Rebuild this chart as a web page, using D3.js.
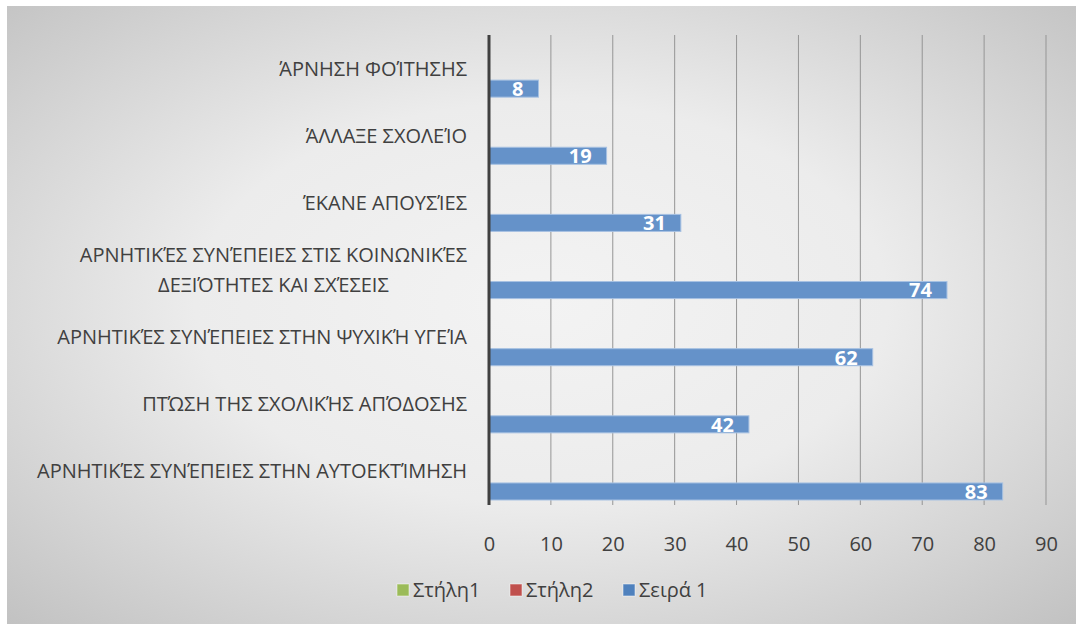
<!DOCTYPE html>
<html>
<head>
<meta charset="utf-8">
<script src="https://cdn.jsdelivr.net/npm/d3@7"></script>
<style>
  body { margin: 0; background: #fff; }
  svg text { font-family: "Open Sans", "Noto Sans", sans-serif; }
</style>
</head>
<body>
<div id="chart"></div>
<script>
// categories top to bottom, label lines split where the original wraps
var categories = [
  ['ΆΡΝΗΣΗ ΦΟΊΤΗΣΗΣ'],
  ['ΆΛΛΑΞΕ ΣΧΟΛΕΊΟ'],
  ['ΈΚΑΝΕ ΑΠΟΥΣΊΕΣ'],
  ['ΑΡΝΗΤΙΚΈΣ ΣΥΝΈΠΕΙΕΣ ΣΤΙΣ ΚΟΙΝΩΝΙΚΈΣ', 'ΔΕΞΙΌΤΗΤΕΣ ΚΑΙ ΣΧΈΣΕΙΣ'],
  ['ΑΡΝΗΤΙΚΈΣ ΣΥΝΈΠΕΙΕΣ ΣΤΗΝ ΨΥΧΙΚΉ ΥΓΕΊΑ'],
  ['ΠΤΏΣΗ ΤΗΣ ΣΧΟΛΙΚΉΣ ΑΠΌΔΟΣΗΣ'],
  ['ΑΡΝΗΤΙΚΈΣ ΣΥΝΈΠΕΙΕΣ ΣΤΗΝ ΑΥΤΟΕΚΤΊΜΗΣΗ']
];
var seriesNames = ['Στήλη1', 'Στήλη2', 'Σειρά 1'];
var seriesColors = ['#9BBB59', '#C0504D', '#4F81BD'];
var stili1 = [null, null, null, null, null, null, null];
var stili2 = [null, null, null, null, null, null, null];
var seira1 = [8, 19, 31, 74, 62, 42, 83];
var xTicks = [0, 10, 20, 30, 40, 50, 60, 70, 80, 90];

var width = 1076, height = 624;
var margin = {top: 35, right: 30, bottom: 119, left: 489};

var svg = d3.select('#chart').append('svg')
    .attr('width', width)
    .attr('height', height);

var defs = svg.append('defs');
var grad = defs.append('radialGradient')
    .attr('id', 'bg')
    .attr('cx', '50%').attr('cy', '48%').attr('r', '72%');
grad.append('stop').attr('offset', '0%').attr('stop-color', '#F3F3F3');
grad.append('stop').attr('offset', '45%').attr('stop-color', '#ECECEC');
grad.append('stop').attr('offset', '100%').attr('stop-color', '#C2C2C2');

svg.append('rect')
    .attr('x', 7).attr('y', 6)
    .attr('width', width - 7).attr('height', height - 6)
    .attr('fill', 'url(#bg)');

var x = d3.scaleLinear()
    .domain([0, 90])
    .range([margin.left, 1046]);

var y = d3.scaleBand()
    .domain(d3.range(categories.length))
    .range([margin.top, 505]);

// three series per category, Σειρά 1 sits at the bottom of each group
var ySeries = d3.scaleBand()
    .domain(seriesNames)
    .range([11, y.bandwidth() - 5]);

// gridlines
svg.append('g')
    .selectAll('line')
    .data(xTicks.slice(1))
    .join('line')
    .attr('x1', function(d) { return x(d); })
    .attr('x2', function(d) { return x(d); })
    .attr('y1', margin.top)
    .attr('y2', 505)
    .attr('stroke', '#959595')
    .attr('stroke-width', 1);

// tick labels
var xAxis = d3.axisBottom(x).tickValues(xTicks).tickSize(0).tickPadding(0);
var gx = svg.append('g')
    .attr('transform', 'translate(0,' + 544 + ')')
    .call(xAxis);
gx.select('.domain').remove();
gx.selectAll('text')
    .attr('dy', '0.35em')
    .attr('fill', '#404040')
    .style('font-size', '20px');

var seriesData = [stili1, stili2, seira1];

seriesData.forEach(function(values, si) {
  var g = svg.append('g');
  var rows = values.map(function(v, i) { return {i: i, v: v}; })
      .filter(function(d) { return d.v != null; });

  g.selectAll('rect')
      .data(rows)
      .join('rect')
      .attr('x', x(0))
      .attr('y', function(d) { return y(d.i) + ySeries(seriesNames[si]); })
      .attr('width', function(d) { return x(d.v) - x(0); })
      .attr('height', ySeries.bandwidth())
      .attr('fill', '#6592C9')
      .attr('stroke', '#A7C1E2')
      .attr('stroke-width', 1);

  g.selectAll('text')
      .data(rows)
      .join('text')
      .attr('x', function(d) { return x(d.v) - 15; })
      .attr('y', function(d) { return y(d.i) + ySeries(seriesNames[si]) + ySeries.bandwidth() / 2; })
      .attr('dy', '0.37em')
      .attr('text-anchor', 'end')
      .attr('fill', '#fff')
      .style('font-size', '20px')
      .style('font-weight', 'bold')
      .text(function(d) { return d.v; });
});

// value axis line at zero
svg.append('line')
    .attr('x1', x(0)).attr('x2', x(0))
    .attr('y1', margin.top).attr('y2', 505)
    .attr('stroke', '#404040')
    .attr('stroke-width', 3);

// category labels
var labels = svg.append('g')
    .selectAll('text')
    .data(categories)
    .join('text')
    .attr('text-anchor', 'end')
    .attr('fill', '#404040')
    .style('font-size', '20px')
    .attr('transform', function(d, i) {
      var cy = y(i) + y.bandwidth() / 2 - (d.length - 1) * 15;
      return 'translate(467,' + cy + ')';
    });

labels.selectAll('tspan')
    .data(function(d) { return d; })
    .join('tspan')
    .attr('x', function(d, j, nodes) { return 0; })
    .attr('dy', function(d, j) { return j === 0 ? '0.35em' : '30px'; })
    .text(function(d) { return d; });

// second line of a wrapped label is centred under the first, as in the original
labels.each(function() {
  var spans = d3.select(this).selectAll('tspan');
  if (spans.size() < 2) return;
  var w0 = spans.nodes()[0].getComputedTextLength();
  spans.filter(function(d, j) { return j > 0; })
      .attr('x', function() { return -(w0 - this.getComputedTextLength()) / 2; });
});

// legend
var legendX = [397, 510, 623];
var legend = svg.append('g')
    .selectAll('g')
    .data(seriesNames)
    .join('g')
    .attr('transform', function(d, i) { return 'translate(' + legendX[i] + ',590)'; });

legend.append('rect')
    .attr('x', 0).attr('y', -6)
    .attr('width', 12).attr('height', 12)
    .attr('fill', function(d, i) { return seriesColors[i]; })
    .attr('stroke', '#fff')
    .attr('stroke-opacity', 0.5);

legend.append('text')
    .attr('x', 16)
    .attr('dy', '0.35em')
    .attr('fill', '#404040')
    .style('font-size', '20px')
    .text(function(d) { return d; });
</script>
</body>
</html>
